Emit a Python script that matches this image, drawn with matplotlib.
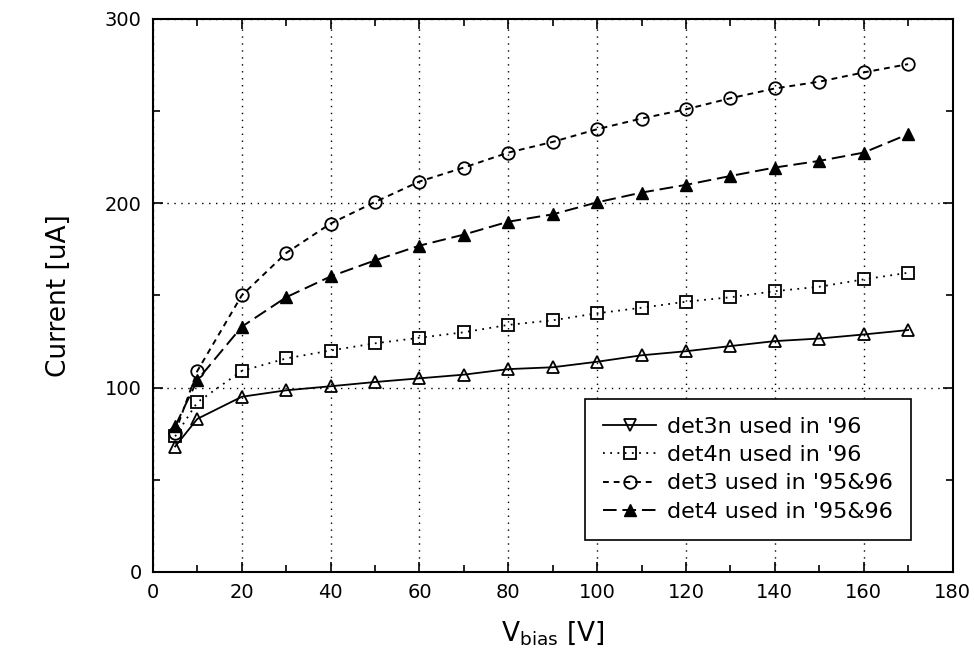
import matplotlib
matplotlib.use("Agg")

import matplotlib.pyplot as plt
from matplotlib.lines import Line2D
from matplotlib.ticker import MultipleLocator

vbias = [5, 10, 20, 30, 40, 50, 60, 70, 80, 90, 100, 110, 120, 130, 140, 150, 160, 170]

det3n = [68, 83, 95, 98.5, 100.7, 103, 105, 107, 110, 111, 114, 117.5, 119.7, 122.5, 125.2, 126.6, 128.8, 131.2]
det4n = [73.5, 92, 109, 115.8, 120.1, 124, 127, 130, 134, 136.5, 140.3, 143.3, 146.6, 149, 152.3, 154.7, 158.7, 162.3]
det3 = [75.5, 109, 150, 173, 189, 200.7, 211.8, 219.4, 227.5, 233.3, 240.2, 246, 251, 257, 262.3, 266, 271, 275.5]
det4 = [79, 104, 133, 149, 160.3, 169, 177, 183, 190, 194, 200.5, 205.8, 210, 214.8, 219.4, 223, 227.5, 237.5]

labels = ["det3n used in '96", "det4n used in '96", "det3 used in '95&96", "det4 used in '95&96"]

fig = plt.figure(figsize=(9.74, 6.55), dpi=100)
ax = fig.add_axes([0.157, 0.127, 0.821, 0.844])

ms = 9
ax.plot(vbias, det3n, color="black", lw=1.3, ls="-", marker="^", ms=ms, mfc="none", mew=1.3)
ax.plot(vbias, det4n, color="black", lw=1.3, ls=(0, (1, 3)), marker="s", ms=ms - 1, mfc="none", mew=1.3)
ax.plot(vbias, det3, color="black", lw=1.4, ls=(0, (3, 2.5)), marker="o", ms=ms, mfc="none", mew=1.3)
ax.plot(vbias, det4, color="black", lw=1.4, ls=(0, (7, 3)), marker="^", ms=ms, mfc="black", mew=1.0)

ax.set_xlim(0, 180)
ax.set_ylim(0, 300)
ax.xaxis.set_major_locator(MultipleLocator(20))
ax.xaxis.set_minor_locator(MultipleLocator(10))
ax.yaxis.set_major_locator(MultipleLocator(100))
ax.yaxis.set_minor_locator(MultipleLocator(50))
ax.tick_params(which="both", direction="in", top=True, right=True, labelsize=14, width=1.2)
ax.tick_params(which="major", length=7, pad=8)
ax.tick_params(which="minor", length=5)
ax.grid(True, which="major", color="black", ls=(0, (1, 4)), lw=1.0)
for s in ax.spines.values():
    s.set_linewidth(1.5)

ax.set_xlabel("V$_{\\mathregular{bias}}$ [V]", fontsize=19, labelpad=12)
ax.set_ylabel("Current [uA]", fontsize=19, labelpad=24)

handles = [
    Line2D([], [], color="black", lw=1.3, ls="-", marker="v", ms=ms, mfc="none", mew=1.3),
    Line2D([], [], color="black", lw=1.3, ls=(0, (1, 3)), marker="s", ms=ms - 1, mfc="none", mew=1.3),
    Line2D([], [], color="black", lw=1.4, ls=(0, (3, 2.5)), marker="o", ms=ms, mfc="none", mew=1.3),
    Line2D([], [], color="black", lw=1.4, ls=(0, (7, 3)), marker="^", ms=ms, mfc="black", mew=1.0),
]
leg = ax.legend(handles, labels, loc="lower right", bbox_to_anchor=(0.962, 0.038), fontsize=16,
                fancybox=False, edgecolor="black", framealpha=1, handlelength=2.4,
                handletextpad=0.5, labelspacing=0.38, borderpad=0.8)
leg.get_frame().set_linewidth(1.2)

fig.savefig("out.png", dpi=100)
